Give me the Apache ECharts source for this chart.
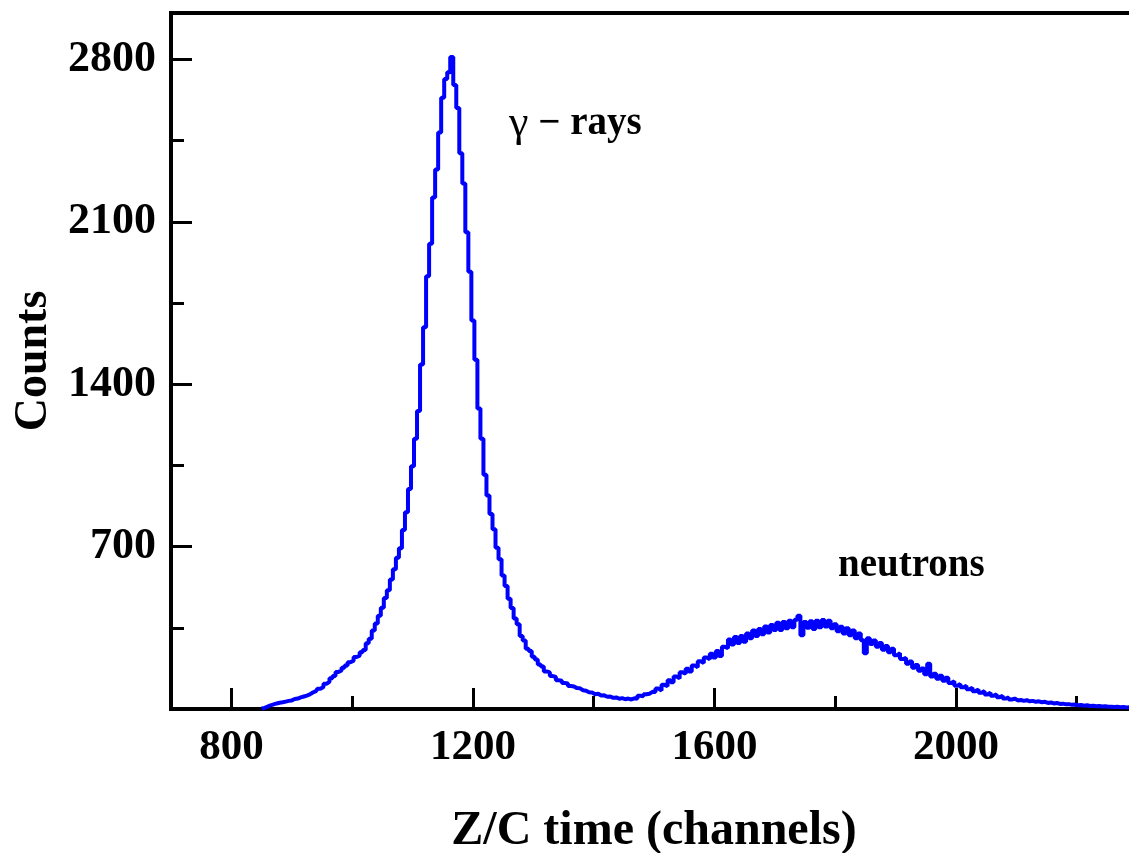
<!DOCTYPE html>
<html>
<head>
<meta charset="utf-8">
<script src="https://cdn.jsdelivr.net/npm/echarts@6/dist/echarts.min.js"></script>
<style>
  html, body { margin: 0; padding: 0; background: #ffffff; overflow: hidden; }
  #chart { width: 1145px; height: 853px; }
</style>
</head>
<body>
<div id="chart"></div>
<script>
// Zero-crossing time spectrum, 5-channel bins starting at channel 850
const firstChannel = 850;
const binWidth = 5;
const counts = [
  // 850 - 1000
  2, 5, 10, 16, 20, 24, 27, 29, 32, 35,
  37, 43, 45, 50, 54, 58, 63, 71, 77, 87,
  95, 109, 117, 133, 142, 160, 166, 178, 188, 202,
  208,
  // 1005 - 1100
  224, 230, 245, 254, 283, 303, 338, 368, 402, 436,
  478, 512, 558, 602, 652, 693, 772, 848, 948, 1046,
  // 1105 - 1200
  1165, 1285, 1485, 1645, 1865, 2005, 2205, 2325, 2485, 2635,
  2715, 2745, 2810, 2690, 2590, 2395, 2265, 2055, 1885, 1675,
  // 1205 - 1300
  1505, 1295, 1165, 1010, 920, 840, 775, 695, 645, 575,
  530, 475, 435, 390, 365, 315, 295, 260, 250, 225,
  // 1305 - 1400
  213, 192, 183, 162, 158, 142, 138, 124, 122, 112,
  110, 99, 97, 90, 89, 81, 79, 72, 71, 64,
  // 1405 - 1500
  66, 58, 59, 53, 54, 48, 50, 44, 47, 42,
  45, 41, 46, 44, 57, 55, 64, 66, 74, 73,
  // 1505 - 1600
  88, 80, 104, 98, 124, 115, 140, 132, 158, 152,
  174, 162, 188, 180, 206, 198, 222, 214, 238, 222,
  // 1605 - 1700
  250, 228, 268, 262, 300, 278, 310, 285, 315, 290,
  325, 305, 338, 315, 345, 322, 356, 330, 362, 340,
  // 1705 - 1800
  372, 340, 375, 348, 380, 352, 385, 402, 318, 375,
  350, 378, 345, 380, 352, 384, 356, 380, 348, 365,
  // 1805 - 1900
  335, 355, 325, 348, 318, 338, 305, 325, 296, 240,
  305, 280, 295, 268, 285, 255, 272, 245, 260, 232,
  // 1905 - 2000
  240, 215, 220, 195, 205, 178, 190, 165, 175, 150,
  195, 140, 152, 130, 143, 122, 135, 112, 120, 100,
  // 2005 - 2100
  108, 94, 100, 85, 92, 77, 84, 70, 77, 63,
  70, 57, 64, 51, 57, 45, 50, 41, 45, 37,
  // 2105 - 2200
  39, 35, 38, 33, 35, 31, 33, 29, 31, 26,
  28, 24, 26, 22, 23, 20, 21, 18, 19, 16,
  // 2205 - 2300
  17, 14, 16, 13, 14, 12, 13, 11, 12, 10,
  10, 9, 10, 8, 9, 7, 8, 7, 6, 6
];

const xMajorTicks = [800, 1200, 1600, 2000];
const xMinorTicks = [1000, 1400, 1800, 2200];
const yMajorTicks = [700, 1400, 2100, 2800];
const yMinorTicks = [350, 1050, 1750, 2450];

const peakNames = ['γ', '− rays', 'neutrons'];

const spectrum = counts.map((c, i) => [firstChannel + i * binWidth, c]);

const serif = '"Liberation Serif", "Times New Roman", serif';
const X_MIN = 700, X_MAX = 2300, Y_MIN = 0, Y_MAX = 3000;
const plainNumber = v => String(v);

function xAxisCfg(ticks, len, withLabels) {
  return {
    type: 'value', position: 'bottom', min: X_MIN, max: X_MAX,
    axisLine: { show: true, lineStyle: { color: '#000', width: 4 } },
    axisTick: { show: true, inside: true, length: len, customValues: ticks,
                lineStyle: { color: '#000', width: 3 } },
    axisLabel: withLabels ? {
      show: true, customValues: ticks, margin: 17, formatter: plainNumber,
      fontFamily: serif, fontWeight: 'bold', fontSize: 43, color: '#000'
    } : { show: false },
    splitLine: { show: false }
  };
}
function yAxisCfg(ticks, len, withLabels) {
  return {
    type: 'value', position: 'left', min: Y_MIN, max: Y_MAX,
    axisLine: { show: true, lineStyle: { color: '#000', width: 4 } },
    axisTick: { show: true, inside: true, length: len, customValues: ticks,
                lineStyle: { color: '#000', width: 3 } },
    axisLabel: withLabels ? {
      show: true, customValues: ticks, margin: 15, formatter: plainNumber,
      fontFamily: serif, fontWeight: 'bold', fontSize: 44, color: '#000'
    } : { show: false },
    splitLine: { show: false }
  };
}

const xMain = xAxisCfg(xMajorTicks, 21, true);
xMain.name = 'Z/C time (channels)';
xMain.nameLocation = 'middle';
xMain.nameGap = 99;
xMain.nameTextStyle = { fontFamily: serif, fontWeight: 'bold', fontSize: 48, color: '#000' };

const yMain = yAxisCfg(yMajorTicks, 21, true);
yMain.name = 'Counts';
yMain.nameLocation = 'middle';
yMain.nameGap = 112;
yMain.nameTextStyle = { fontFamily: serif, fontWeight: 'bold', fontSize: 46, color: '#000' };

const chart = echarts.init(document.getElementById('chart'), null, { renderer: 'canvas' });
chart.setOption({
  animation: false,
  backgroundColor: '#ffffff',
  grid: {
    left: 171, top: 13, width: 966, height: 696,
    outerBoundsMode: 'none',
    show: true, borderColor: '#000', borderWidth: 4, backgroundColor: 'transparent'
  },
  xAxis: [xMain, xAxisCfg(xMinorTicks, 13, false)],
  yAxis: [yMain, yAxisCfg(yMinorTicks, 13, false)],
  series: [{
    type: 'line',
    xAxisIndex: 0, yAxisIndex: 0,
    data: spectrum,
    step: 'middle',
    showSymbol: false,
    clip: true,
    lineStyle: { color: '#0000ff', width: 4 }
  }],
  graphic: [
    {
      type: 'text', left: 509, top: 102,
      style: {
        text: '{g|' + peakNames[0] + '}{b| ' + peakNames[1] + '}',
        rich: {
          g: { fontFamily: serif, fontWeight: 'normal', fontSize: 44, fill: '#000' },
          b: { fontFamily: serif, fontWeight: 'bold', fontSize: 39, fill: '#000' }
        }
      }
    },
    {
      type: 'text', left: 838, top: 546,
      style: {
        text: peakNames[2],
        fontFamily: serif, fontWeight: 'bold', fontSize: 39, fill: '#000'
      }
    }
  ]
});
</script>
</body>
</html>
